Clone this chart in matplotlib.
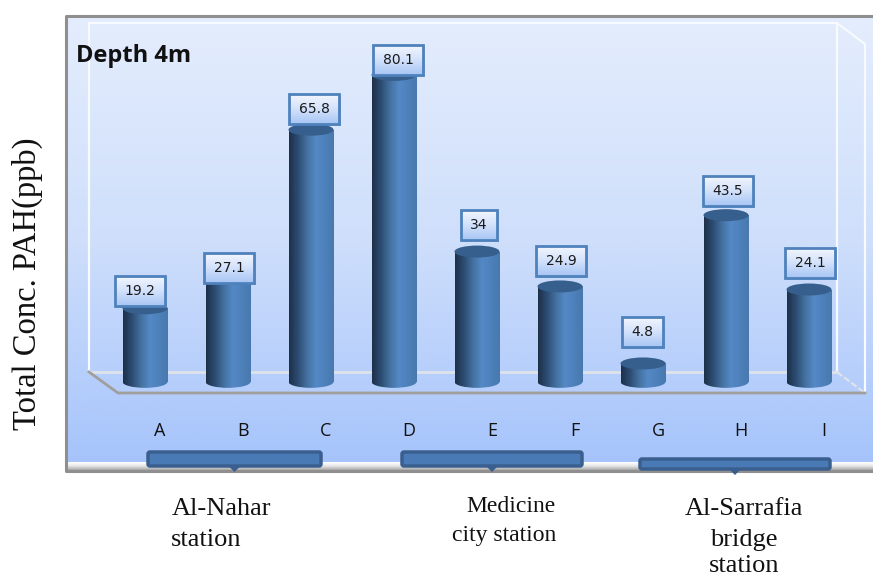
import numpy as np
import matplotlib
matplotlib.use('Agg')
import matplotlib.pyplot as plt
from matplotlib.colors import LinearSegmentedColormap
from matplotlib.patches import Ellipse, FancyBboxPatch, Polygon, Rectangle
from matplotlib.transforms import ScaledTranslation

categories = ['A', 'B', 'C', 'D', 'E', 'F', 'G', 'H', 'I']
values = [19.2, 27.1, 65.8, 80.1, 34, 24.9, 4.8, 43.5, 24.1]
value_labels = ['19.2', '27.1', '65.8', '80.1', '34', '24.9', '4.8', '43.5', '24.1']
label_gaps = [0.6, -1.3, 1.5, 0, 3, 2.6, 4.2, 2.3, 3]
label_shifts = [-5, 1, 3, 4, 2, 1, -1, 2, 1]
label_widths = [50, 50, 50, 50, 36, 50, 41, 50, 50]

W, H = 873, 579
fig = plt.figure(figsize=(W / 100, H / 100), dpi=100)

# background panel, in pixel coordinates
bg = fig.add_axes([0, 0, 1, 1])
panel_cmap = LinearSegmentedColormap.from_list('panel', ['#e4edfd', '#cfdffb', '#a6c4fb'])
bg.imshow(np.linspace(0, 1, 256).reshape(-1, 1), cmap=panel_cmap, aspect='auto',
          extent=(66, 873, 462, 15), zorder=0)
strip_cmap = LinearSegmentedColormap.from_list('strip', ['#ffffff', '#e6e6e6', '#a8a8a8'])
bg.imshow(np.linspace(0, 1, 32).reshape(-1, 1), cmap=strip_cmap, aspect='auto',
          extent=(66, 873, 470, 462), zorder=0)
bg.plot([873, 66, 66, 873], [15.5, 15.5, 470.5, 470.5], color='#8f8f8f', lw=2.2, zorder=1)

# 3d walls and floor
white = '#f7faff'
bg.plot([89, 89, 837, 837], [372, 23, 23, 372], color=white, lw=1.6, zorder=1)
bg.plot([837, 865, 865], [23, 44, 393], color=white, lw=1.6, zorder=1)
bg.add_patch(Polygon([(89, 372), (837, 372), (865, 393), (118, 393)], closed=True,
                     facecolor='#b7cffb', alpha=0.45, edgecolor='none', zorder=1))
bg.plot([89, 837], [372, 372], color='#dfe3ea', lw=2, zorder=1)
bg.plot([837, 865], [372, 393], color='#dfe3ea', lw=1.6, ls=(0, (3, 1)), zorder=1)
bg.plot([89, 118, 865], [372, 393, 393], color='#a09f9c', lw=2, zorder=1)

# station brackets
brackets = [(148, 321, 452, 466), (402, 582, 452, 466), (640, 830, 459, 469)]
for x0, x1, y0, y1 in brackets:
    bg.add_patch(FancyBboxPatch((x0 + 2, y0 + 2), x1 - x0 - 4, y1 - y0 - 4,
                                boxstyle='round,pad=2', facecolor='#4a7ab5',
                                edgecolor='#3a5f8e', lw=2.5, zorder=2))
    mid = (x0 + x1) / 2
    bg.add_patch(Polygon([(mid - 6, y1), (mid + 6, y1), (mid, y1 + 6)], closed=True,
                         facecolor='#3a5f8e', edgecolor='none', zorder=2))

bg.set_xlim(0, W)
bg.set_ylim(H, 0)
bg.axis('off')

serif = 'Liberation Serif'
bg.text(27, 284, 'Total Conc. PAH(ppb)', rotation=90, ha='center', va='center',
        family=serif, fontsize=23.5, color='#111111')
bg.text(76, 56, 'Depth 4m', ha='left', va='center', family='Open Sans',
        fontsize=17, fontweight='bold', color='#111111')
bg.text(172, 509, 'Al-Nahar', ha='left', va='center', family=serif, fontsize=19, color='#111111')
bg.text(171, 540, 'station', ha='left', va='center', family=serif, fontsize=19, color='#111111')
bg.text(511, 507, 'Medicine', ha='center', va='center', family=serif, fontsize=17, color='#111111')
bg.text(504, 536, 'city station', ha='center', va='center', family=serif, fontsize=17, color='#111111')
bg.text(744, 509, 'Al-Sarrafia', ha='center', va='center', family=serif, fontsize=19, color='#111111')
bg.text(744, 540, 'bridge', ha='center', va='center', family=serif, fontsize=19, color='#111111')
bg.text(744, 571.5, 'station', ha='center', va='baseline', family=serif, fontsize=19, color='#111111')

# data axes: 83 px per category, 3.83 px per unit, zero at y=382
ax = fig.add_axes([103.5 / W, 1 - 401 / H, 747 / W, 364 / H])
ax.patch.set_alpha(0)
ax.set_xlim(-0.5, 8.5)
ax.set_ylim(-5, 90)
px_x = 747 / 9
px_y = 364 / 95

bar_cmap = LinearSegmentedColormap.from_list(
    'bar', ['#1d3048', '#2d4d73', '#44719f', '#5489c6', '#4e81bb', '#4878ad'])
box_cmap = LinearSegmentedColormap.from_list('box', ['#a8c6f5', '#d2e1fb', '#f2f6fe'])
grad = np.linspace(0, 1, 128).reshape(1, -1)

bar_w = 45 / px_x
ell_h = 12 / px_y
x = np.arange(len(categories))
bars = ax.bar(x, values, width=bar_w, color='#44719f', zorder=3)

for i, (bar, v) in enumerate(zip(bars, values)):
    left = i - bar_w / 2
    bottom = Ellipse((i, 0), bar_w, ell_h, facecolor='none', edgecolor='none', zorder=3)
    ax.add_patch(bottom)
    img = ax.imshow(grad, cmap=bar_cmap, aspect='auto', zorder=3,
                    extent=(left, left + bar_w, -ell_h, ell_h))
    img.set_clip_path(bottom)
    img = ax.imshow(grad, cmap=bar_cmap, aspect='auto', zorder=3,
                    extent=(left, left + bar_w, 0, v))
    img.set_clip_path(bar)
    ax.add_patch(Ellipse((i, v), bar_w, ell_h, facecolor='#375f8e', edgecolor='none', zorder=4))

# value label boxes
box_h = 30 / px_y
for i, (v, txt, gap, shift, wpx) in enumerate(zip(values, value_labels, label_gaps, label_shifts, label_widths)):
    bw = wpx / px_x
    cx = i + shift / px_x
    y0 = v + gap
    ax.add_patch(Rectangle((cx - bw / 2 + 2 / px_x, y0 - 2 / px_y), bw, box_h,
                           facecolor='#33507a', alpha=0.3, edgecolor='none', zorder=5))
    ax.imshow(np.linspace(0, 1, 64).reshape(-1, 1), cmap=box_cmap, aspect='auto', zorder=6,
              origin='lower', extent=(cx - bw / 2, cx + bw / 2, y0, y0 + box_h))
    ax.add_patch(Rectangle((cx - bw / 2, y0), bw, box_h, facecolor='none',
                           edgecolor='#4f82bd', lw=2, zorder=7))
    ax.text(cx, y0 + box_h / 2, txt, ha='center', va='center', fontsize=10,
            color='#1a1a1a', zorder=8)

ax.set_xlim(-0.5, 8.5)
ax.set_ylim(-5, 90)
ax.set_xticks(x)
ax.set_xticklabels(categories, family='Open Sans', fontsize=13, color='#111111')
ax.set_yticks([])
ax.tick_params(axis='x', length=0, pad=15)
# category labels sit to the right of their bars in the original
shift_labels = ScaledTranslation(15 / 100, 0, fig.dpi_scale_trans)
for lab in ax.get_xticklabels():
    lab.set_transform(lab.get_transform() + shift_labels)
for s in ax.spines.values():
    s.set_visible(False)

fig.savefig('out.png', dpi=100, facecolor='white')
